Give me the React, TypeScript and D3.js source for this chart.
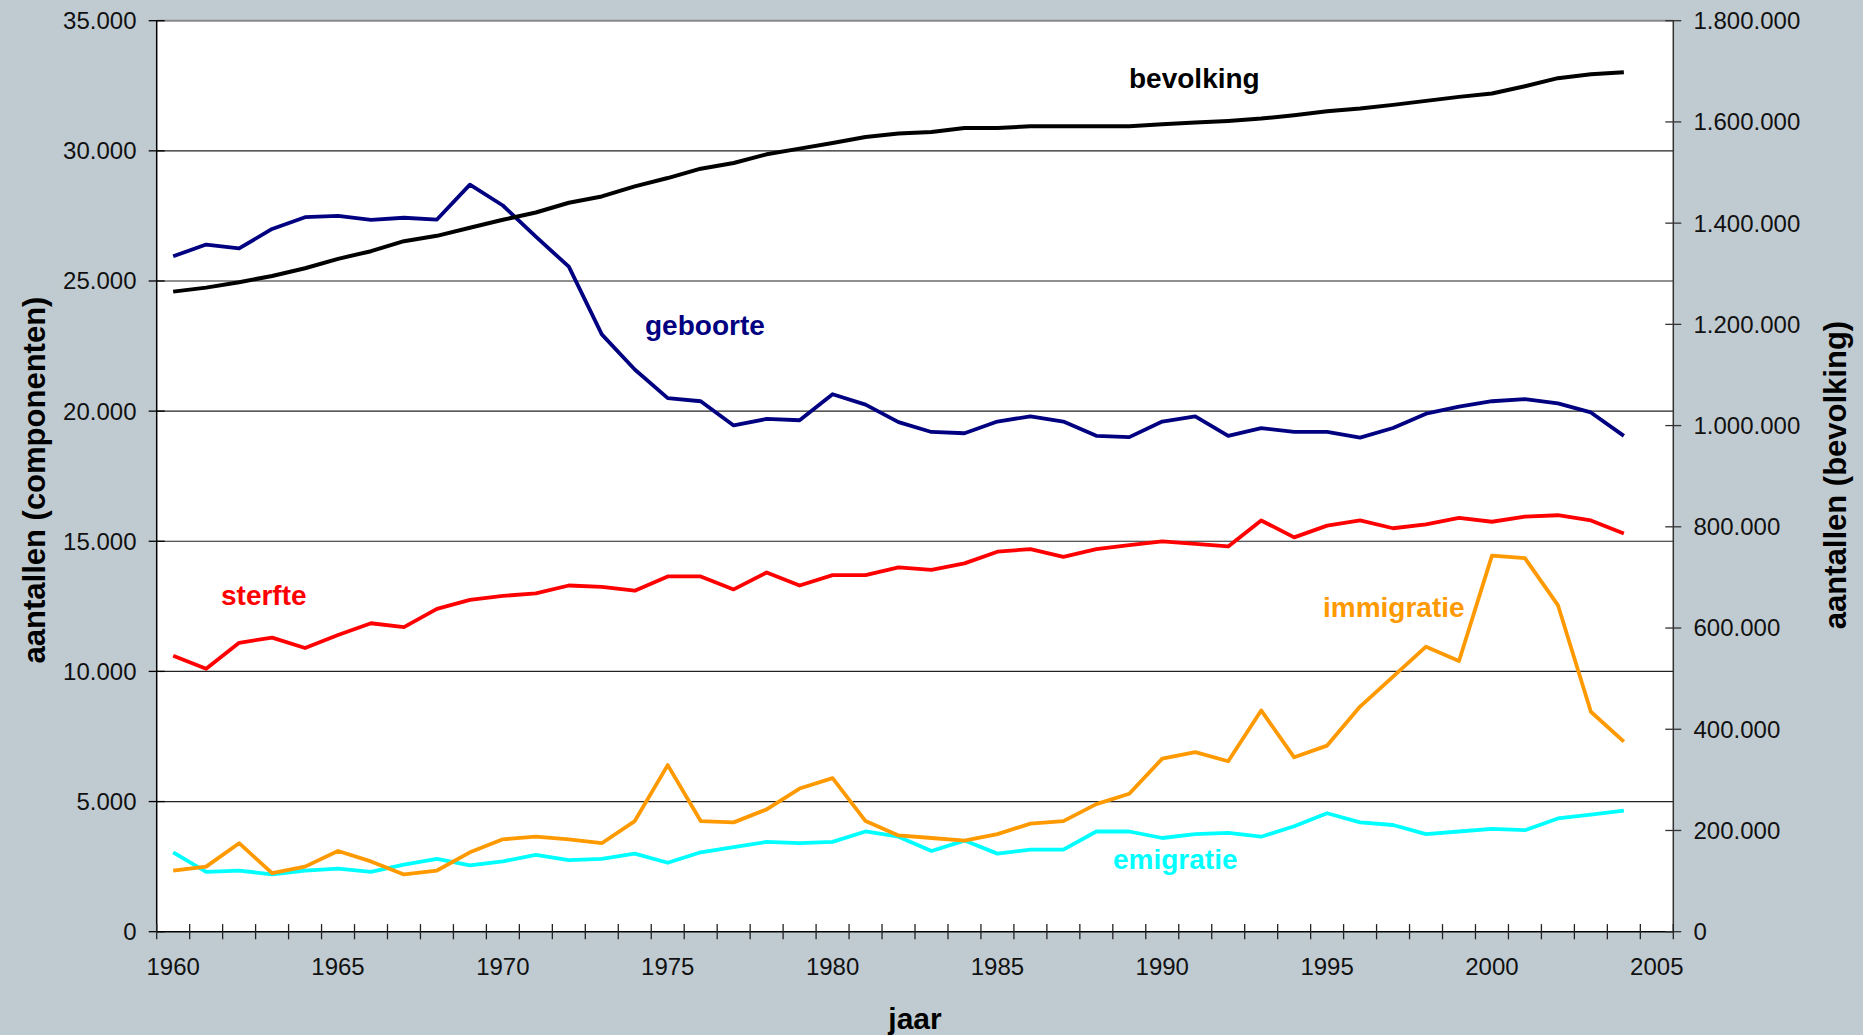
import React from "react";
import * as d3 from "d3";

const years = [1960, 1961, 1962, 1963, 1964, 1965, 1966, 1967, 1968, 1969, 1970, 1971, 1972, 1973, 1974, 1975, 1976, 1977, 1978, 1979, 1980, 1981, 1982, 1983, 1984, 1985, 1986, 1987, 1988, 1989, 1990, 1991, 1992, 1993, 1994, 1995, 1996, 1997, 1998, 1999, 2000, 2001, 2002, 2003, 2004, 2005];
const xLabels = [1960, 1965, 1970, 1975, 1980, 1985, 1990, 1995, 2000, 2005];
const leftTicks = [0, 5000, 10000, 15000, 20000, 25000, 30000, 35000];
const rightTicks = [0, 200000, 400000, 600000, 800000, 1000000, 1200000, 1400000, 1600000, 1800000];

const geboorte = [25950, 26400, 26250, 27000, 27450, 27500, 27350, 27430, 27360, 28700, 27900, 26700, 25550, 22950, 21600, 20500, 20380, 19450, 19700, 19650, 20650, 20250, 19580, 19200, 19150, 19600, 19800, 19600, 19050, 19000, 19600, 19800, 19050, 19350, 19200, 19200, 18980, 19350, 19900, 20170, 20380, 20460, 20300, 19950, 19050];
const sterfte = [10600, 10100, 11100, 11300, 10900, 11400, 11850, 11700, 12400, 12750, 12900, 13000, 13300, 13250, 13100, 13650, 13650, 13150, 13800, 13300, 13700, 13700, 14000, 13900, 14150, 14600, 14700, 14400, 14700, 14850, 15000, 14900, 14800, 15800, 15150, 15600, 15800, 15500, 15650, 15900, 15750, 15950, 16000, 15800, 15300];
const immigratie = [2350, 2500, 3400, 2250, 2500, 3100, 2700, 2200, 2350, 3050, 3550, 3650, 3550, 3400, 4250, 6400, 4250, 4200, 4700, 5500, 5900, 4250, 3700, 3600, 3500, 3750, 4150, 4250, 4900, 5300, 6650, 6900, 6550, 8500, 6700, 7150, 8650, 9800, 10950, 10400, 14450, 14350, 12550, 8450, 7300];
const emigratie = [3050, 2300, 2350, 2200, 2350, 2420, 2300, 2580, 2800, 2550, 2700, 2950, 2750, 2800, 3000, 2650, 3050, 3250, 3450, 3400, 3450, 3850, 3650, 3100, 3500, 3000, 3150, 3150, 3850, 3850, 3600, 3750, 3800, 3650, 4050, 4550, 4200, 4100, 3750, 3850, 3950, 3900, 4350, 4500, 4650];
const bevolking = [1264700, 1272600, 1283200, 1295700, 1310900, 1329400, 1344600, 1364400, 1374900, 1390800, 1406600, 1421100, 1440300, 1452800, 1472600, 1489100, 1507600, 1518800, 1536000, 1547200, 1558400, 1570300, 1576900, 1580200, 1588100, 1588100, 1591400, 1591400, 1591400, 1591400, 1595400, 1598700, 1602000, 1606600, 1613200, 1621100, 1626400, 1633700, 1641600, 1649500, 1656100, 1670600, 1686500, 1694400, 1698300];

const W = 1863;
const H = 1035;
const L = 156.7;
const R = 1673.3;
const T = 20.7;
const B = 931.7;
const FONT = "'Liberation Sans', Arial, Helvetica, sans-serif";
const fmt = (v: number) => d3.format(",")(v).replace(/,/g, ".");

export default function App() {
  const x = d3.scaleBand<number>().domain(years).range([L, R]).paddingInner(0).paddingOuter(0);
  const bw = x.bandwidth();
  const cx = (i: number) => (x(years[i]) as number) + bw / 2;
  const yL = d3.scaleLinear().domain([0, 35000]).range([B, T]);
  const yR = d3.scaleLinear().domain([0, 1800000]).range([B, T]);

  const lineL = (arr: number[]) =>
    d3.line<number>().x((_, i) => cx(i)).y((d) => yL(d))(arr) as string;
  const lineR = (arr: number[]) =>
    d3.line<number>().x((_, i) => cx(i)).y((d) => yR(d))(arr) as string;

  const boundaries = years.map((yr) => x(yr) as number).concat([R]);

  return (
    <svg
      width={W}
      height={H}
      style={{ position: "absolute", left: 0, top: 0, display: "block" }}
      fontFamily={FONT}
    >
      <rect x={0} y={0} width={W} height={H} fill="#C0CBD1" />
      <rect x={L} y={T} width={R - L} height={B - T} fill="#FFFFFF" />

      {/* gridlines */}
      {leftTicks.filter((t) => t > 0 && t < 35000).map((t) => (
        <line key={"g" + t} x1={L} x2={R} y1={yL(t)} y2={yL(t)} stroke="#222" strokeWidth={1.2} />
      ))}
      <line x1={L} x2={R} y1={T} y2={T} stroke="#888" strokeWidth={2} />

      {/* series */}
      <path d={lineL(emigratie)} fill="none" stroke="#00FFFF" strokeWidth={3.8} strokeLinejoin="round" />
      <path d={lineL(immigratie)} fill="none" stroke="#FF9900" strokeWidth={3.8} strokeLinejoin="round" />
      <path d={lineL(sterfte)} fill="none" stroke="#FF0000" strokeWidth={3.8} strokeLinejoin="round" />
      <path d={lineL(geboorte)} fill="none" stroke="#000080" strokeWidth={3.8} strokeLinejoin="round" />
      <path d={lineR(bevolking)} fill="none" stroke="#000000" strokeWidth={4} strokeLinejoin="round" />

      {/* axes */}
      <line x1={L} x2={L} y1={T} y2={B} stroke="#000" strokeWidth={1.5} />
      <line x1={R} x2={R} y1={T} y2={B} stroke="#333" strokeWidth={1.5} />
      <line x1={L} x2={R} y1={B} y2={B} stroke="#000" strokeWidth={1.5} />

      {leftTicks.map((t) => (
        <g key={"lt" + t}>
          <line x1={L - 8} x2={L + 8} y1={yL(t)} y2={yL(t)} stroke="#000" strokeWidth={1.3} />
          <text x={136.5} y={yL(t)} dy="0.35em" textAnchor="end" fontSize={24} fill="#111">
            {fmt(t)}
          </text>
        </g>
      ))}
      {rightTicks.map((t) => (
        <g key={"rt" + t}>
          <line x1={R - 8} x2={R + 8} y1={yR(t)} y2={yR(t)} stroke="#333" strokeWidth={1.3} />
          <text x={1693.5} y={yR(t)} dy="0.35em" textAnchor="start" fontSize={24} fill="#111">
            {fmt(t)}
          </text>
        </g>
      ))}
      {boundaries.map((bx, i) => (
        <line key={"xt" + i} x1={bx} x2={bx} y1={B - 7.6} y2={B + 7.6} stroke="#222" strokeWidth={1.3} />
      ))}
      {xLabels.map((yr) => (
        <text key={"xl" + yr} x={(x(yr) as number) + bw / 2} y={975} textAnchor="middle" fontSize={24} fill="#111">
          {yr}
        </text>
      ))}

      {/* axis titles */}
      <text transform="translate(45,480) rotate(-90)" textAnchor="middle" fontSize={31} fontWeight="bold" fill="#000">
        aantallen (componenten)
      </text>
      <text transform="translate(1846,475) rotate(-90)" textAnchor="middle" fontSize={31} fontWeight="bold" fill="#000">
        aantallen (bevolking)
      </text>
      <text x={915} y={1029} textAnchor="middle" fontSize={30} fontWeight="bold" fill="#000">
        jaar
      </text>

      {/* series labels */}
      <text x={1129} y={88} fontSize={28} fontWeight="bold" fill="#000000">bevolking</text>
      <text x={645} y={335} fontSize={28} fontWeight="bold" fill="#000080">geboorte</text>
      <text x={221} y={605} fontSize={28} fontWeight="bold" fill="#FF0000">sterfte</text>
      <text x={1323} y={617} fontSize={28} fontWeight="bold" fill="#FF9900">immigratie</text>
      <text x={1113} y={869} fontSize={28} fontWeight="bold" fill="#00FFFF">emigratie</text>
    </svg>
  );
}
